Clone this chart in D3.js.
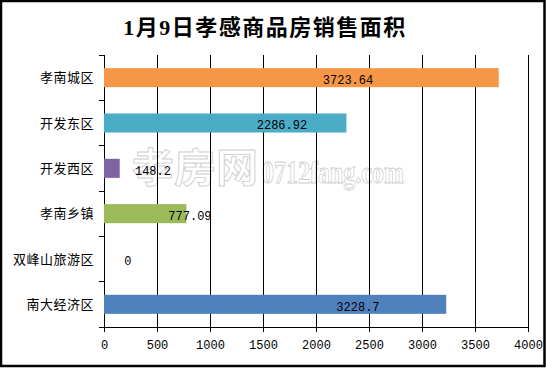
<!DOCTYPE html>
<html>
<head>
<meta charset="utf-8">
<script src="https://cdn.jsdelivr.net/npm/d3@7"></script>
<style>
  body { margin: 0; background: #fff; }
  svg { display: block; }
  .tick text { font-family: "Liberation Mono", monospace; font-size: 12px; fill: #000; }
</style>
</head>
<body>
<svg id="chart"></svg>
<script>
// chart data
const categories = ["孝南城区", "开发东区", "开发西区", "孝南乡镇", "双峰山旅游区", "南大经济区"];
const values = [3723.64, 2286.92, 148.2, 777.09, 0, 3228.7];
const colors = ["#F79646", "#4BACC6", "#8064A2", "#9BBB59", "#4F81BD", "#4F81BD"];
const xTicks = [0, 500, 1000, 1500, 2000, 2500, 3000, 3500, 4000];
const title = "1月9日孝感商品房销售面积";

// where each value label sits (in axis units), labels were hand placed in the original
const labelAt = [2302, 1679, 462, 811, 226, 2396];

const width = 546, height = 369;
const margin = { top: 55, right: 18, bottom: 42, left: 104 };
const innerW = width - margin.left - margin.right;
const innerH = height - margin.top - margin.bottom;

const svg = d3.select("#chart").attr("width", width).attr("height", height);

// outer frame
svg.append("rect")
  .attr("x", 1).attr("y", 1)
  .attr("width", 543.5).attr("height", 365)
  .attr("fill", "#fff")
  .attr("stroke", "#000")
  .attr("stroke-width", 2.5);

svg.append("text")
  .attr("x", 265).attr("y", 35)
  .attr("text-anchor", "middle")
  .style("font-family", "'Liberation Serif', 'Noto Sans CJK SC', serif")
  .style("font-weight", "bold")
  .style("font-size", "22px")
  .style("letter-spacing", "1.5px")
  .text(title);

const chart = svg.append("g").attr("transform", `translate(${margin.left},${margin.top})`);

const x = d3.scaleLinear().domain([0, 4000]).range([0, innerW]);
const y = d3.scaleBand().domain(categories).range([0, innerH])
  .paddingInner(0.58).paddingOuter(0.29);

// watermark (hollow letters)
const wm = chart.append("g").attr("fill", "#fff").attr("stroke", "#cfcfcf").attr("stroke-width", 0.9);
wm.append("text")
  .attr("x", 28).attr("y", 127)
  .style("font-family", "'Noto Sans CJK SC', sans-serif")
  .style("font-weight", "bold")
  .style("font-size", "40px")
  .attr("textLength", 126).attr("lengthAdjust", "spacingAndGlyphs")
  .text("孝房网");
wm.append("text")
  .attr("x", 158).attr("y", 128)
  .style("font-family", "'Liberation Serif', serif")
  .style("font-weight", "bold")
  .style("font-size", "32px")
  .attr("textLength", 142).attr("lengthAdjust", "spacingAndGlyphs")
  .text("0712fang.com");

// gridlines
chart.append("g")
  .selectAll("line")
  .data(xTicks.slice(1))
  .join("line")
  .attr("x1", d => x(d)).attr("x2", d => x(d))
  .attr("y1", 0).attr("y2", innerH)
  .attr("stroke", "#000").attr("shape-rendering", "crispEdges");

// x axis
const xAxis = d3.axisBottom(x).tickValues(xTicks).tickFormat(d3.format("d"))
  .tickSize(5).tickSizeOuter(0).tickPadding(8);
const xg = chart.append("g").attr("transform", `translate(0,${innerH})`).call(xAxis);
xg.select(".domain").attr("stroke", "#000").attr("shape-rendering", "crispEdges");
xg.selectAll(".tick line").attr("y1", -7).attr("shape-rendering", "crispEdges");

// y axis with ticks between the bands
chart.append("line")
  .attr("x1", 0).attr("x2", 0).attr("y1", 0).attr("y2", innerH)
  .attr("stroke", "#000").attr("shape-rendering", "crispEdges");
const step = y.step();
const edges = d3.range(categories.length + 1).map(i => i * step);
chart.append("g")
  .selectAll("line")
  .data(edges)
  .join("line")
  .attr("x1", -5).attr("x2", 0)
  .attr("y1", d => d).attr("y2", d => d)
  .attr("stroke", "#000").attr("shape-rendering", "crispEdges");

chart.append("g")
  .selectAll("text")
  .data(categories)
  .join("text")
  .attr("x", -10)
  .attr("y", d => y(d) + y.bandwidth() / 2)
  .attr("dy", "0.35em")
  .attr("text-anchor", "end")
  .style("font-family", "'Noto Sans CJK SC', sans-serif")
  .style("font-size", "13px")
  .style("letter-spacing", "0.5px")
  .text(d => d);

// bars
chart.append("g")
  .selectAll("rect")
  .data(values)
  .join("rect")
  .attr("x", 0)
  .attr("y", (d, i) => y(categories[i]))
  .attr("width", d => x(d))
  .attr("height", y.bandwidth())
  .attr("fill", (d, i) => colors[i]);

// value labels
chart.append("g")
  .selectAll("text")
  .data(values)
  .join("text")
  .attr("x", (d, i) => x(labelAt[i]))
  .attr("y", (d, i) => y(categories[i]) + y.bandwidth() / 2 + 2)
  .attr("dy", "0.35em")
  .attr("text-anchor", "middle")
  .style("font-family", "'Liberation Mono', monospace")
  .style("font-size", "12px")
  .text(d => d);
</script>
</body>
</html>
